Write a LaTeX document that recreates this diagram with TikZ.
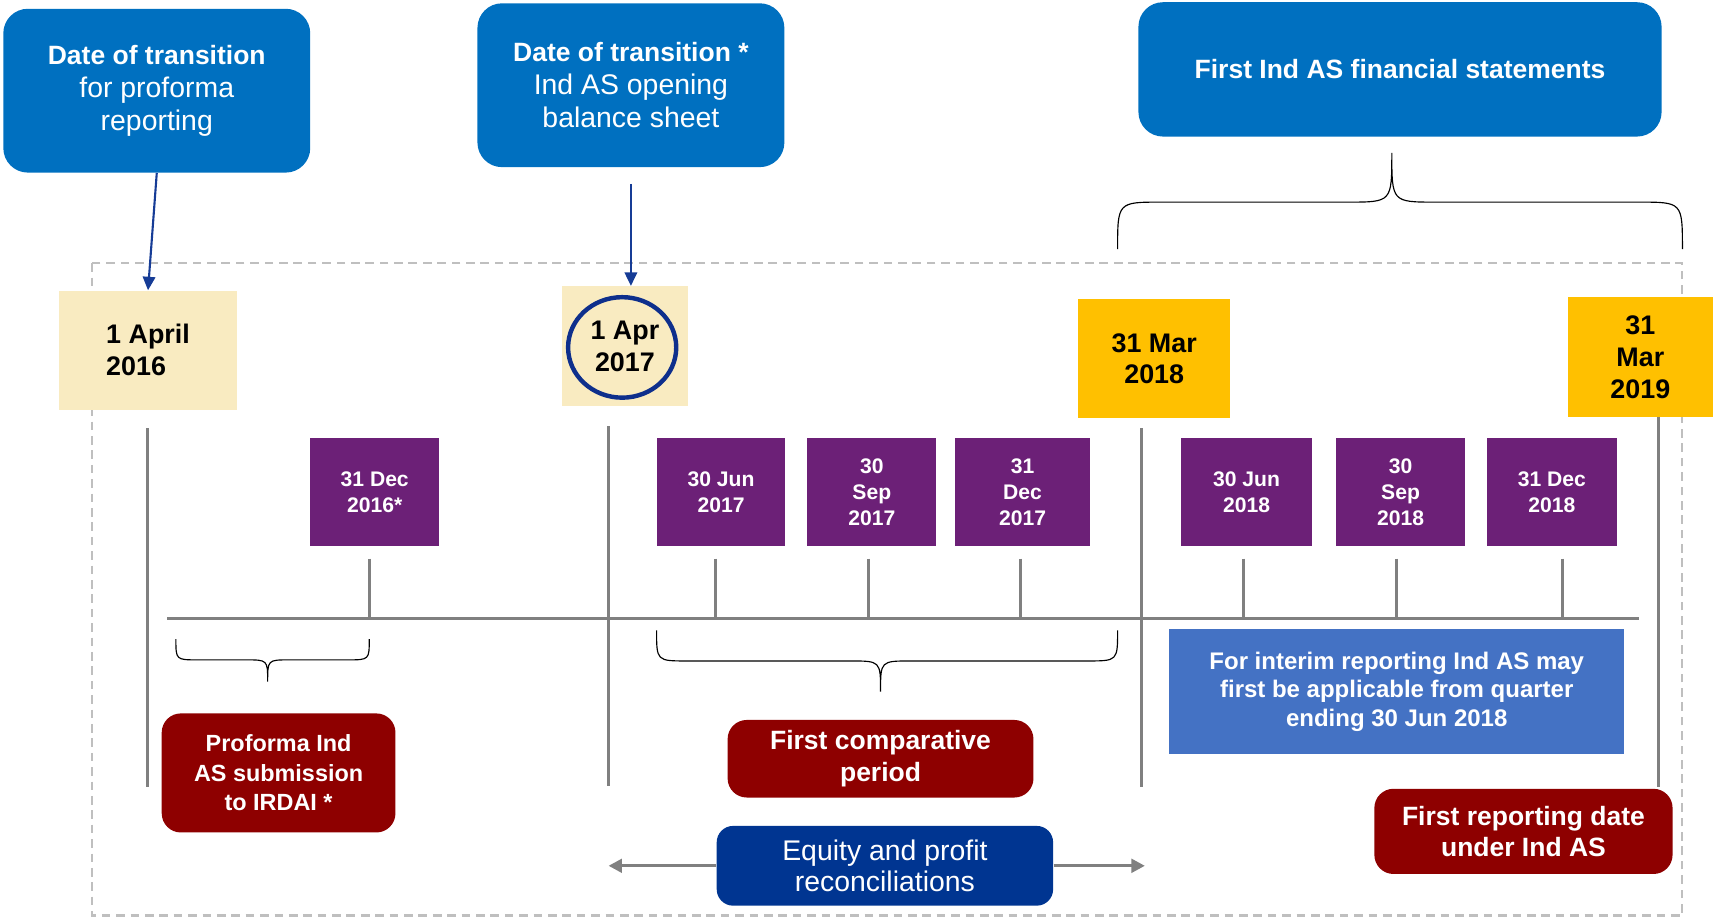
\documentclass[tikz,border=0pt]{standalone}
\usepackage{fontspec}
\setmainfont{Liberation Sans}
\usetikzlibrary{arrows.meta}

\definecolor{headBlue}{HTML}{0070C0}
\definecolor{pointBlue}{HTML}{163C96}
\definecolor{paleDate}{HTML}{F9EBC1}
\definecolor{goldDate}{HTML}{FFC000}
\definecolor{qPurple}{HTML}{6C2077}
\definecolor{noteRed}{HTML}{8E0000}
\definecolor{noteBlue}{HTML}{4472C4}
\definecolor{navyBox}{HTML}{003591}
\definecolor{ringBlue}{HTML}{0E2F8C}
\definecolor{lineGray}{HTML}{808080}
\definecolor{frameGray}{HTML}{BFBFBF}

\begin{document}
\begin{tikzpicture}[x=0.02cm,y=-0.02cm,
  headbox/.style={fill=headBlue,text=white,rounded corners=0.45cm,inner sep=0pt,align=center,
    font=\fontsize{14.8}{17.1}\selectfont},
  datebox/.style={inner sep=0pt,align=center,font=\bfseries\fontsize{14}{16.5}\selectfont},
  qbox/.style={fill=qPurple,text=white,inner sep=0pt,align=center,minimum height=1.98cm,
    font=\bfseries\fontsize{11}{13.7}\selectfont},
  redbox/.style={fill=noteRed,text=white,rounded corners=0.35cm,inner sep=0pt,align=center,
    font=\bfseries\fontsize{13.8}{16.5}\selectfont},
  tl/.style={draw=lineGray,line width=1.7pt},
  pointer/.style={draw=pointBlue,line width=1.1pt,-{Triangle[length=7pt,width=6.5pt]}},
  grayarrow/.style={draw=lineGray,line width=1.7pt,-{Triangle[length=7pt,width=7pt]}},
  bracket/.style={draw=black,line width=0.6pt}
]
\useasboundingbox (0,0) rectangle (1568,843);

% dashed frame round the timeline
\draw[frameGray,line width=1.1pt,dash pattern=on 4.5pt off 3pt] (84,241) rectangle (1540,838);

% headings
\node[headbox,minimum width=5.62cm,minimum height=3cm] (hdProforma) at (143.5,83)
  {{\bfseries\fontsize{13.8}{17.1}\selectfont Date of transition}\\for proforma\\reporting};
\node[headbox,minimum width=5.62cm,minimum height=3cm] (hdOpening) at (577.5,78)
  {{\bfseries\fontsize{13.8}{17.1}\selectfont Date of transition *}\\Ind AS opening\\balance sheet};
\node[headbox,minimum width=9.58cm,minimum height=2.46cm,font=\bfseries\fontsize{13.8}{17.1}\selectfont] (hdFirst) at (1281.5,63.5)
  {First Ind AS financial statements};

% key dates
\node[datebox,fill=paleDate,minimum width=3.26cm,minimum height=2.18cm,align=left] (d2016) at (135.5,320.5) {1 April\\2016};
\node[datebox,fill=paleDate,minimum width=2.32cm,minimum height=2.2cm] (d2017) at (572,317) {1 Apr\\2017};
\draw[ringBlue,line width=2.3pt] (569.5,318) ellipse [x radius=0.99cm,y radius=0.92cm];
\node[datebox,fill=goldDate,minimum width=2.78cm,minimum height=2.18cm] (d2018) at (1056.5,328.5) {31 Mar\\2018};
\node[datebox,fill=goldDate,minimum width=2.66cm,minimum height=2.2cm] (d2019) at (1501.5,327) {31\\Mar\\2019};

% pointers from headings
\draw[pointer] (hdProforma.south) -- (d2016.north);
\draw[pointer,shorten <=0.3cm] (hdOpening.south) -- (hdOpening.south |- d2017.north);

% brace under first Ind AS statements
\draw[bracket] (1023,228) .. controls (1023,185) .. (1063,185) -- (1234,185)
  .. controls (1274,185) .. (1274,140) .. controls (1274,185) .. (1314,185)
  -- (1500,185) .. controls (1540,185) .. (1540,228);

% timeline
\coordinate (axisL) at (153,566);
\coordinate (axisR) at (1500,566);
\coordinate (vProforma) at (135,392);
\coordinate (vTransition) at (557,390);
\coordinate (vComparative) at (1045,392);
\coordinate (vReporting) at (1518,382);
\draw[tl] (axisL) -- (axisR);
\draw[tl] (vProforma) -- ++(0,328);
\draw[tl] (vTransition) -- ++(0,329);
\draw[tl] (vComparative) -- ++(0,328);
\draw[tl] (vReporting) -- ++(0,338);

% quarter ends
\foreach \nm/\cx/\w/\dx/\txt in {q1/343/2.36/-0.1/{31 Dec\\2016*},q2/660/2.36/-0.1/{30 Jun\\2017},
    q3/798/2.36/-0.06/{30\\Sep\\2017},q4/936/2.48/-0.04/{31\\Dec\\2017},q5/1141/2.4/-0.06/{30 Jun\\2018},
    q6/1282/2.36/-0.08/{30\\Sep\\2018},q7/1420.5/2.38/0.19/{31 Dec\\2018}}{
  \node[qbox,minimum width=\w cm] (\nm) at (\cx,450.5) {\txt};
  \draw[tl,shorten <=0.22cm] ([xshift=\dx cm]\nm.south) -- ([xshift=\dx cm]\nm.south |- axisL);
}

% braces under the timeline
\draw[bracket] (161,585) .. controls (161,604) .. (181,604) -- (225,604)
  .. controls (245,604) .. (245,624) .. controls (245,604) .. (265,604)
  -- (318,604) .. controls (338,604) .. (338,585);
\draw[bracket] (601,577) .. controls (601,605) .. (629,605) -- (778,605)
  .. controls (806,605) .. (806,633) .. controls (806,605) .. (834,605)
  -- (995,605) .. controls (1023,605) .. (1023,577);

% periods
\node[redbox,minimum width=4.28cm,minimum height=2.18cm,font=\bfseries\fontsize{12.2}{15.4}\selectfont] (rProforma) at (255,707.5)
  {Proforma Ind\\AS submission\\to IRDAI *};
\node[redbox,minimum width=5.6cm,minimum height=1.42cm] (rComparative) at (806,694.5) {First comparative\\period};
\node[redbox,minimum width=5.46cm,minimum height=1.56cm] (rReporting) at (1394.5,761) {First reporting date\\under Ind AS};
\node[fill=noteBlue,text=white,inner sep=0pt,align=center,minimum width=8.34cm,minimum height=2.28cm,
  font=\bfseries\fontsize{12.5}{14.8}\selectfont] (interim) at (1278.5,633)
  {For interim reporting Ind AS may\\first be applicable from quarter\\ending 30 Jun 2018};

% reconciliations
\node[fill=navyBox,text=white,rounded corners=0.3cm,inner sep=0pt,align=center,minimum width=6.16cm,
  minimum height=1.46cm,font=\fontsize{14.8}{16.5}\selectfont] (recon) at (810,792.5) {Equity and profit\\reconciliations};
\draw[grayarrow] (recon.west) -- (recon.west -| vTransition);
\draw[grayarrow] (recon.east) -- ([xshift=0.06cm]recon.east -| vComparative);

\end{tikzpicture}
\end{document}
